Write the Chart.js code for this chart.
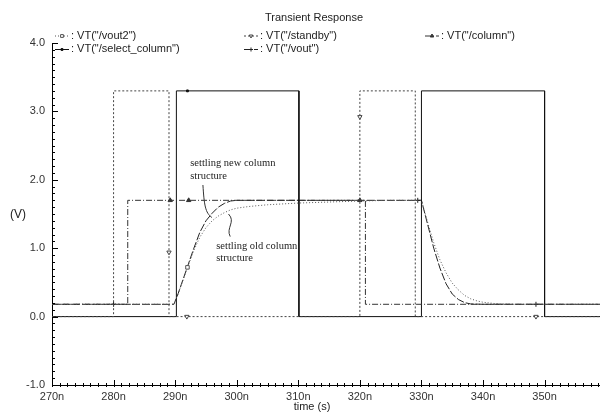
<!DOCTYPE html>
<html>
<head>
<meta charset="utf-8">
<script src="https://cdn.jsdelivr.net/npm/chart.js@4/dist/chart.umd.min.js"></script>
<style>
  html, body { margin: 0; padding: 0; background: #fff; }
</style>
</head>
<body>
<canvas id="chart" width="600" height="414"></canvas>
<script>
// --- DATA (time in ns, voltage in V) ---
const xTicks = [270, 280, 290, 300, 310, 320, 330, 340, 350];
const yTicks = [-1, 0, 1, 2, 3, 4];

// VT("/select_column")
const selectT = [270, 280, 290.2, 290.2, 292, 310.1, 310.1, 330, 330, 350, 350, 359];
const selectV = [0, 0, 0, 3.3, 3.3, 3.3, 0, 0, 3.3, 3.3, 0, 0];
const selectMarks = [[292, 3.3]];

// VT("/standby")
const standbyT = [270, 280, 280, 289, 289, 289, 291.9, 320, 320, 320, 329, 329, 348.6, 359];
const standbyV = [0, 0, 3.3, 3.3, 0.94, 0, 0, 0, 2.92, 3.3, 3.3, 0, 0, 0];
const standbyMarks = [[289, 0.94], [291.9, 0], [320, 2.92], [348.6, 0]];

// VT("/column")
const columnT = [270, 280, 282.3, 282.3, 289.2, 292.2, 320, 320.9, 320.9, 359];
const columnV = [0.18, 0.18, 0.18, 1.7, 1.7, 1.7, 1.7, 1.7, 0.18, 0.18];
const columnMarks = [[289.2, 1.7], [292.2, 1.7], [320, 1.7]];

// VT("/vout")  - new column structure
const voutT = [270, 280, 289.8, 290.5, 291, 292, 293, 294, 295, 296, 297, 298, 299, 300,
  329.4, 330, 331, 332, 333, 334, 335, 336, 337, 338, 340, 348.6, 359];
const voutV = [0.18, 0.18, 0.18, 0.34, 0.47, 0.73, 0.99, 1.23, 1.40, 1.51, 1.60, 1.655, 1.69, 1.70,
  1.70, 1.70, 1.35, 1.00, 0.71, 0.48, 0.33, 0.25, 0.205, 0.185, 0.18, 0.18, 0.18];
const voutMarks = [[280, 0.18], [329.4, 1.7], [348.6, 0.18]];

// VT("/vout2") - old column structure
const vout2T = [270, 289.8, 290.5, 291, 292, 293, 294, 295, 296, 297, 298, 299, 300, 302, 305,
  310, 315, 320, 325, 330, 331, 332, 333, 334, 335, 336, 337, 338, 339, 340, 342, 345, 359];
const vout2V = [0.18, 0.18, 0.34, 0.46, 0.72, 0.96, 1.16, 1.30, 1.40, 1.47, 1.52, 1.56, 1.585, 1.61, 1.635,
  1.66, 1.675, 1.69, 1.70, 1.70, 1.38, 1.08, 0.83, 0.64, 0.49, 0.39, 0.31, 0.26, 0.23, 0.21, 0.19, 0.18, 0.18];
const vout2Marks = [[292, 0.72]];

const legendLabels = ['VT("/vout2")', 'VT("/standby")', 'VT("/column")', 'VT("/select_column")', 'VT("/vout")'];

// --- HELPERS ---
const pts = (t, v) => t.map((x, i) => ({ x: x, y: v[i] }));
const marker = (marks, r) => c => {
  const p = c.raw;
  if (!p) return 0;
  return marks.some(m => m[0] === p.x && m[1] === p.y) ? r : 0;
};

const SANS = '"Liberation Sans", Arial, sans-serif';
const SERIF = '"Liberation Serif", "Times New Roman", serif';

const series = [
  { label: legendLabels[0], data: pts(vout2T, vout2V), color: '#555', dash: [1, 2], style: 'rect', fill: '#fff', rot: 0, r: 2.5, marks: vout2Marks },
  { label: legendLabels[1], data: pts(standbyT, standbyV), color: '#444', dash: [2, 2], style: 'triangle', fill: '#fff', rot: 180, r: 2.5, marks: standbyMarks },
  { label: legendLabels[2], data: pts(columnT, columnV), color: '#333', dash: [6, 2, 1, 2], style: 'triangle', fill: '#333', rot: 0, r: 2.5, marks: columnMarks },
  { label: legendLabels[3], data: pts(selectT, selectV), color: '#111', dash: [], style: 'rect', fill: '#111', rot: 0, r: 1.3, marks: selectMarks },
  { label: legendLabels[4], data: pts(voutT, voutV), color: '#222', dash: [8, 2], style: 'cross', fill: '#222', rot: 0, r: 2.5, marks: voutMarks },
];

// --- ANNOTATIONS (data coords) ---
const notes = [
  { text: ['settling new column', 'structure'], t: 292.45, v: [2.245, 2.055],
    leader: [[294.51, 1.924], [294.72, 1.632], [294.89, 1.515], [295.97, 1.449]] },
  { text: ['settling old column', 'structure'], t: 296.67, v: [1.032, 0.857],
    leader: [[298.67, 1.50], [299.9, 1.383], [298.2, 1.30], [298.94, 1.17]] },
];

// legend layout: [sampleStart, y]
const legendPos = [[55, 35.5], [244, 35.5], [425, 35.5], [55, 49], [244, 49]];

// --- DRAWING PLUGIN ---
const decor = {
  id: 'decor',
  afterDraw(chart) {
    const ctx = chart.ctx;
    const xs = chart.scales.x, ys = chart.scales.y;
    const area = chart.chartArea;
    ctx.save();

    // minor / major tick marks
    ctx.strokeStyle = '#000';
    ctx.lineWidth = 1;
    ctx.beginPath();
    for (let i = 0; i <= 50; i++) {
      const v = -1 + i * 0.1;
      const y = Math.round(ys.getPixelForValue(v)) + 0.5;
      const len = i % 10 === 0 ? 6 : 3;
      ctx.moveTo(area.left, y);
      ctx.lineTo(area.left + len, y);
    }
    for (let t = 270; t <= 359; t += 1.25) {
      const x = Math.round(xs.getPixelForValue(t)) + 0.5;
      const major = Math.abs(t % 10) < 0.01;
      ctx.moveTo(x, area.bottom + 2);
      ctx.lineTo(x, area.bottom - (major ? 5 : 2));
    }
    ctx.stroke();

    // title and axis titles
    ctx.fillStyle = '#222';
    ctx.textAlign = 'center';
    ctx.textBaseline = 'middle';
    ctx.font = '11px ' + SANS;
    ctx.fillText('Transient Response', 314, 18);
    ctx.fillText('time (s)', 312, 407);
    ctx.font = '12px ' + SANS;
    ctx.fillText('(V)', 18, 215);

    // legend
    ctx.font = '11px ' + SANS;
    ctx.textAlign = 'left';
    series.forEach((s, i) => {
      const [x0, y] = legendPos[i];
      ctx.strokeStyle = s.color;
      ctx.lineWidth = 1;
      ctx.setLineDash(s.dash);
      ctx.beginPath();
      ctx.moveTo(x0, y + 0.5);
      ctx.lineTo(x0 + 14, y + 0.5);
      ctx.stroke();
      ctx.setLineDash([]);
      ctx.fillStyle = s.fill;
      Chart.helpers.drawPoint(ctx, {
        pointStyle: s.style, radius: Math.min(s.r, 2), rotation: s.rot, borderWidth: 1
      }, x0 + 7, y + 0.5);
      ctx.fillStyle = '#222';
      ctx.fillText(': ' + s.label, x0 + 16, y);
    });

    // annotations
    ctx.font = '10.5px ' + SERIF;
    ctx.fillStyle = '#222';
    ctx.strokeStyle = '#333';
    ctx.lineWidth = 1;
    notes.forEach(n => {
      const x = xs.getPixelForValue(n.t);
      n.text.forEach((line, k) => ctx.fillText(line, x, ys.getPixelForValue(n.v[k])));
      const p = n.leader.map(q => [xs.getPixelForValue(q[0]), ys.getPixelForValue(q[1])]);
      ctx.beginPath();
      ctx.moveTo(p[0][0], p[0][1]);
      ctx.bezierCurveTo(p[1][0], p[1][1], p[2][0], p[2][1], p[3][0], p[3][1]);
      ctx.stroke();
    });
    ctx.restore();
  }
};

// --- CHART SETUP ---
const ctx = document.getElementById('chart').getContext('2d');
new Chart(ctx, {
  type: 'line',
  data: {
    datasets: series.map(s => ({
      label: s.label,
      data: s.data,
      borderColor: s.color,
      borderWidth: 1,
      borderDash: s.dash,
      tension: 0,
      fill: false,
      pointStyle: s.style,
      pointRotation: s.rot,
      pointBackgroundColor: s.fill,
      pointBorderColor: s.color,
      pointBorderWidth: 1,
      pointRadius: marker(s.marks, s.r),
      pointHoverRadius: 0,
    })),
  },
  options: {
    responsive: false,
    animation: false,
    events: [],
    layout: { padding: { top: 43, left: 0, right: 0, bottom: 0 } },
    plugins: { legend: { display: false }, tooltip: { enabled: false }, title: { display: false } },
    scales: {
      x: {
        type: 'linear',
        min: 270,
        max: 359,
        afterBuildTicks: s => { s.ticks = xTicks.map(v => ({ value: v })); },
        afterFit: s => { s.height = 29; },
        grid: { display: false, drawTicks: false },
        border: { display: true, color: '#000', width: 1 },
        ticks: {
          padding: 5, color: '#333', maxRotation: 0, autoSkip: false,
          font: { family: SANS, size: 11 },
          callback: v => v + 'n'
        }
      },
      y: {
        type: 'linear',
        min: -1,
        max: 4,
        afterBuildTicks: s => { s.ticks = yTicks.map(v => ({ value: v })); },
        afterFit: s => { s.width = 52; },
        grid: { display: false, drawTicks: false },
        border: { display: true, color: '#000', width: 1 },
        ticks: {
          padding: 7, color: '#333',
          font: { family: SANS, size: 11 },
          callback: v => v.toFixed(1)
        }
      }
    }
  },
  plugins: [decor]
});
</script>
</body>
</html>
